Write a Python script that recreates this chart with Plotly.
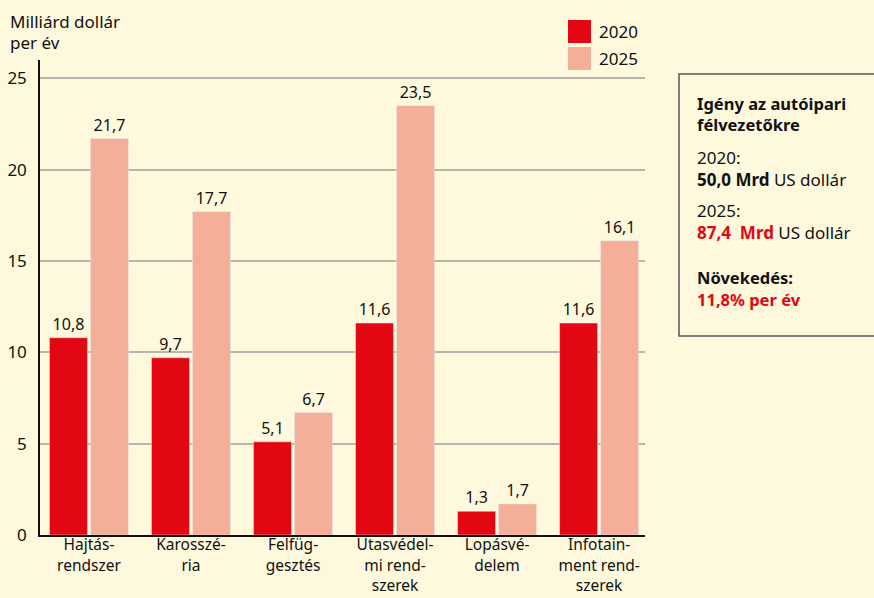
import plotly.graph_objects as go

categories = ["Hajtás-<br>rendszer", "Karosszé-<br>ria", "Felfüg-<br>gesztés",
              "Utasvédel-<br>mi rend-<br>szerek", "Lopásvé-<br>delem",
              "Infotain-<br>ment rend-<br>szerek"]
values_2020 = [10.8, 9.7, 5.1, 11.6, 1.3, 11.6]
values_2025 = [21.7, 17.7, 6.7, 23.5, 1.7, 16.1]
y_ticks = [0, 5, 10, 15, 20, 25]

RED = "#E30613"
SALMON = "#F5AE97"
BG = "#FEF9DD"
FONT = "Noto Sans"

W, H = 874, 598
L, R, T, B = 40, 645, 60, 535  # plot area in px


def px(x):
    return (x - L) / (R - L)


def py(y):
    return (B - y) / (B - T)


fig = go.Figure()
fig.add_bar(x=list(range(len(categories))), y=values_2020, name="2020", marker_color=RED,
            texttemplate="%{y:.1f}", textposition="outside",
            textfont=dict(size=16, color="#111", family=FONT), cliponaxis=False)
fig.add_bar(x=list(range(len(categories))), y=values_2025, name="2025", marker_color=SALMON,
            texttemplate="%{y:.1f}", textposition="outside",
            textfont=dict(size=16, color="#111", family=FONT), cliponaxis=False)

fig.update_layout(
    width=W, height=H,
    margin=dict(l=L, r=W - R, t=T, b=H - B, pad=0, autoexpand=False),
    paper_bgcolor=BG, plot_bgcolor=BG,
    barmode="group", bargap=0.196, bargroupgap=0.073,
    separators=", ",
    showlegend=False,
    font=dict(family=FONT, size=16, color="#111"),
    xaxis=dict(range=[-0.48, 5.45], tickvals=list(range(len(categories))),
               ticktext=categories, showgrid=False, zeroline=False, automargin=False,
               showline=True, linecolor="#111", linewidth=1.5, ticks="",
               ticklabelstandoff=-5,
               tickfont=dict(size=15.5, family=FONT, color="#111")),
    yaxis=dict(range=[0, 26], tickvals=y_ticks, showgrid=True, gridcolor="#B8B6AE",
               gridwidth=1.5, zeroline=False, showline=True, linecolor="#111",
               linewidth=1.5, ticks="", ticklabelstandoff=8, automargin=False,
               tickfont=dict(size=17, family=FONT, color="#111")),
)

shapes = [
    dict(type="rect", xref="paper", yref="paper", x0=px(568), x1=px(591), y0=py(43), y1=py(20),
         fillcolor=RED, line=dict(width=0)),
    dict(type="rect", xref="paper", yref="paper", x0=px(568), x1=px(591), y0=py(70), y1=py(47),
         fillcolor=SALMON, line=dict(width=0)),
    dict(type="rect", xref="paper", yref="paper", x0=px(679), x1=px(890), y0=py(336), y1=py(74),
         fillcolor="rgba(0,0,0,0)", line=dict(color="#555", width=1.5)),
]
fig.update_layout(shapes=shapes)


def ann(text, x, y, color="#111", size=17):
    fig.add_annotation(text=text, x=px(x), y=py(y), xref="paper", yref="paper",
                       xanchor="left", yanchor="middle", showarrow=False,
                       font=dict(size=size, color=color, family=FONT))


ann("Milliárd dollár", 8, 22)
ann("per év", 8, 42)
ann("2020", 597, 32)
ann("2025", 597, 59)
ann("<b>Igény az autóipari</b>", 695, 104, size=16.5)
ann("<b>félvezetőkre</b>", 695, 124, size=16.5)
ann("2020:", 695, 157)
ann("<b>50,0 Mrd</b> US dollár", 695, 179)
ann("2025:", 695, 211)
ann(f"<b><span style='color:{RED}'>87,4  Mrd</span></b> US dollár", 695, 233)
ann("<b>Növekedés:</b>", 695, 277, size=16.5)
ann(f"<b><span style='color:{RED}'>11,8% per év</span></b>", 695, 299, size=16.5)

fig.write_html("out.html", config={"displayModeBar": False},
               post_script="document.body.style.margin='0';document.body.style.overflow='hidden';")
